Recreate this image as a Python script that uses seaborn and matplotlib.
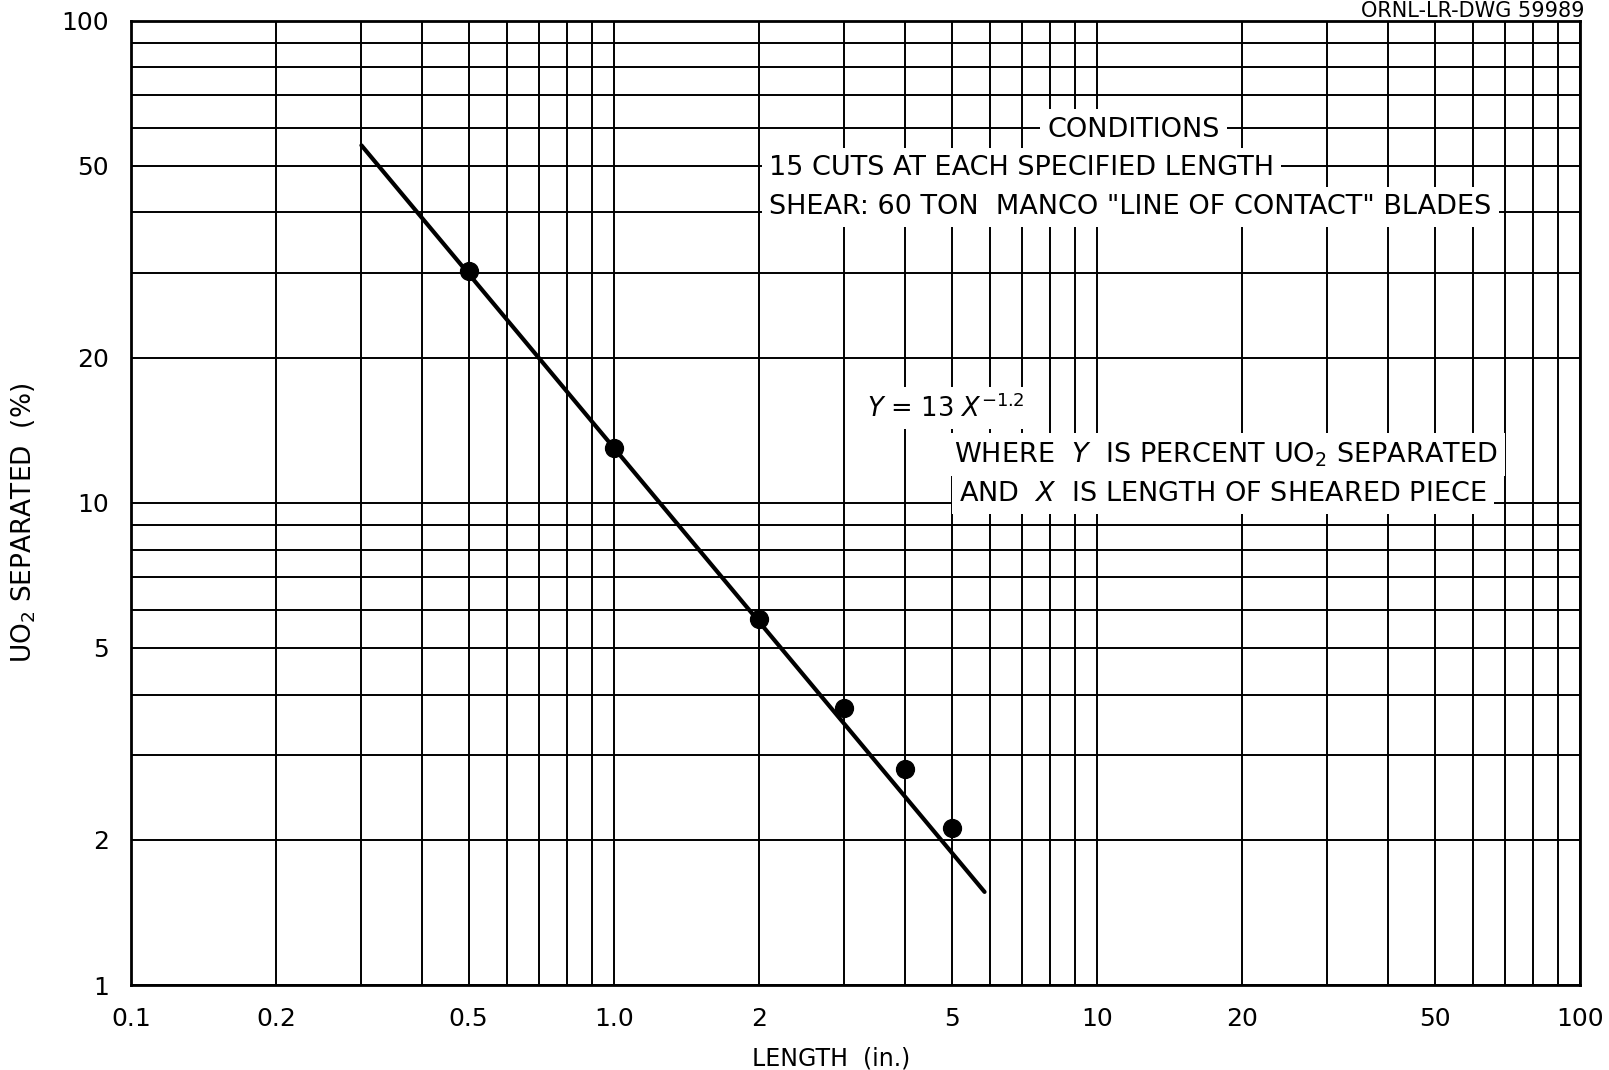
import numpy as np
import pandas as pd
import matplotlib
matplotlib.use("Agg")
import matplotlib.pyplot as plt
from matplotlib.ticker import FixedLocator, NullFormatter
import seaborn as sns

# Measured points: UO2 separated vs. sheared piece length
length_in = [0.5, 1.0, 2.0, 3.0, 4.0, 5.0]
uo2_pct = [30.3, 13.0, 5.75, 3.75, 2.8, 2.12]

# Fitted power law Y = 13 X^-1.2, drawn between its end points
fit_x = [0.3, 5.85]
fit_y = [55.1, 1.56]

x_ticks = [0.1, 0.2, 0.5, 1.0, 2, 5, 10, 20, 50, 100]
x_tick_labels = ["0.1", "0.2", "0.5", "1.0", "2", "5", "10", "20", "50", "100"]
y_ticks = [1, 2, 5, 10, 20, 50, 100]
y_tick_labels = ["1", "2", "5", "10", "20", "50", "100"]

sns.set_theme(style="white")
plt.rcParams["font.family"] = ["DejaVu Sans"]
plt.rcParams["mathtext.fontset"] = "custom"
plt.rcParams["mathtext.it"] = "DejaVu Sans:italic"
plt.rcParams["mathtext.rm"] = "DejaVu Sans"

fig = plt.figure(figsize=(16.09, 10.70), dpi=100)
ax = fig.add_axes([0.0814, 0.0794, 0.9006, 0.9014])

sns.lineplot(data=pd.DataFrame({"x": fit_x, "y": fit_y}), x="x", y="y",
             ax=ax, color="black", lw=3.0, zorder=4)
sns.scatterplot(data=pd.DataFrame({"x": length_in, "y": uo2_pct}), x="x", y="y",
                ax=ax, color="black", s=165, edgecolor="black", zorder=5)

ax.set_xscale("log")
ax.set_yscale("log")
ax.set_xlim(0.1, 100)
ax.set_ylim(1, 100)

minor_x = [m * 10.0 ** e for e in (-1, 0, 1) for m in range(2, 10)]
minor_y = [m * 10.0 ** e for e in (0, 1) for m in range(2, 10)]
ax.xaxis.set_major_locator(FixedLocator(x_ticks))
ax.xaxis.set_minor_locator(FixedLocator(minor_x))
ax.yaxis.set_major_locator(FixedLocator(y_ticks))
ax.yaxis.set_minor_locator(FixedLocator(minor_y))
ax.set_xticklabels(x_tick_labels)
ax.set_yticklabels(y_tick_labels)
ax.xaxis.set_minor_formatter(NullFormatter())
ax.yaxis.set_minor_formatter(NullFormatter())

ax.grid(True, which="both", color="black", lw=1.4)
ax.set_axisbelow(True)
ax.tick_params(which="both", length=0, labelsize=18, colors="black")
ax.tick_params(axis="x", pad=16)
ax.tick_params(axis="y", pad=16)
for sp in ax.spines.values():
    sp.set_color("black")
    sp.set_linewidth(2.0)

ax.set_xlabel("LENGTH  (in.)", fontsize=17, color="black")
ax.set_ylabel("UO$_2$ SEPARATED  (%)", fontsize=19, color="black")
ax.xaxis.set_label_coords(0.483, -0.064)
ax.yaxis.set_label_coords(-0.064, 0.479)

box = dict(facecolor="white", edgecolor="none", pad=5)
txt = dict(transform=ax.transAxes, fontsize=19.5, color="black", zorder=6, va="center")
ax.text(0.692, 0.887, "CONDITIONS", ha="center", bbox=box, **txt)
ax.text(0.4405, 0.847, "15 CUTS AT EACH SPECIFIED LENGTH", ha="left", bbox=box, **txt)
ax.text(0.4405, 0.807, 'SHEAR: 60 TON  MANCO "LINE OF CONTACT" BLADES', ha="left", bbox=box, **txt)
ax.text(0.508, 0.598, r"$\mathit{Y}$ = 13 $\mathit{X}^{-1.2}$", ha="left", bbox=box,
        transform=ax.transAxes, fontsize=18.5, color="black", zorder=6, va="center")
ax.text(0.568, 0.550, r"WHERE  $\mathit{Y}$  IS PERCENT UO$_2$ SEPARATED", ha="left", bbox=box, **txt)
ax.text(0.5715, 0.5096, r"AND  $\mathit{X}$  IS LENGTH OF SHEARED PIECE", ha="left", bbox=box, **txt)

fig.text(0.985, 0.999, "ORNL-LR-DWG 59989", ha="right", va="top", fontsize=15, color="black")

fig.savefig("out.png", dpi=100, facecolor="white")
